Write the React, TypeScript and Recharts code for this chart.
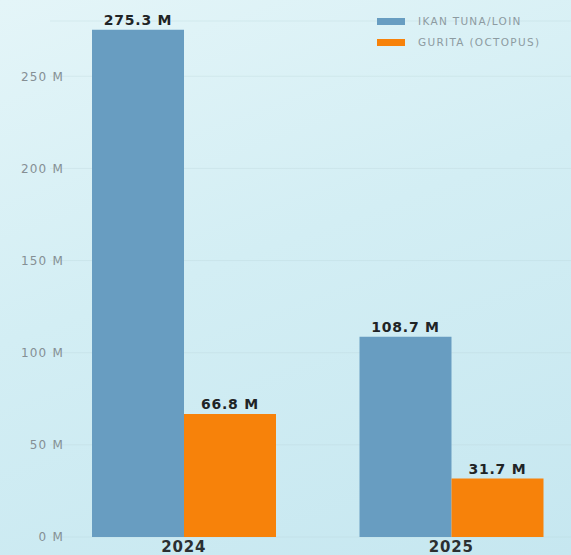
import React from 'react';
import { BarChart, Bar, XAxis, YAxis, CartesianGrid, LabelList } from 'recharts';

const years = ['2024', '2025'];
const tunaValues = [275.3, 108.7];
const guritaValues = [66.8, 31.7];
const yTicks = [0, 50, 100, 150, 200, 250];
const seriesNames = ['IKAN TUNA/LOIN', 'GURITA (OCTOPUS)'];

const BLUE = '#689dc1';
const ORANGE = '#f7820a';

const data = years.map((year, i) => ({
    year,
    tuna: tunaValues[i],
    gurita: guritaValues[i],
}));

const labelStyle = { fill: '#1f2426', fontSize: 14, fontWeight: 'bold', letterSpacing: 0.8 };

export default function App() {
    return (
        <div
            style={{
                position: 'fixed',
                left: 0,
                top: 0,
                width: 571,
                height: 555,
                overflow: 'hidden',
                background: 'linear-gradient(160deg, #e4f5f8 0%, #d3eef4 45%, #c6e7f0 100%)',
            }}
        >
            <BarChart
                width={620}
                height={555}
                data={data}
                margin={{ top: 21, right: 35, left: 0, bottom: 0 }}
                barSize={92}
                barGap={0}
                style={{ fontFamily: 'DejaVu Sans' }}
            >
                <CartesianGrid vertical={false} stroke="#b9d3da" strokeOpacity={0.35} />
                <XAxis
                    dataKey="year"
                    axisLine={false}
                    tickLine={false}
                    height={18}
                    tick={{ fill: '#2b2f31', fontSize: 15, fontWeight: 'bold', letterSpacing: 0.8 }}
                    dy={-4}
                />
                <YAxis
                    width={50}
                    domain={[0, 280]}
                    ticks={yTicks}
                    axisLine={false}
                    tickLine={false}
                    tick={{ fill: '#858f94', fontSize: 12, dx: 22, letterSpacing: 1.2 }}
                    tickFormatter={(v) => `${v} M`}
                />
                <Bar dataKey="tuna" fill={BLUE} isAnimationActive={false}>
                    <LabelList dataKey="tuna" position="top" offset={5} formatter={(v: any) => `${v} M`} style={labelStyle} />
                </Bar>
                <Bar dataKey="gurita" fill={ORANGE} isAnimationActive={false}>
                    <LabelList dataKey="gurita" position="top" offset={5} formatter={(v: any) => `${v} M`} style={labelStyle} />
                </Bar>
            </BarChart>
            <div
                style={{
                    position: 'absolute',
                    left: 377,
                    top: 11,
                    fontFamily: 'DejaVu Sans',
                    fontSize: 10.5,
                    color: '#8d9ba1',
                    lineHeight: '21px',
                    letterSpacing: 1.3,
                }}
            >
                {[BLUE, ORANGE].map((c, i) => (
                    <div key={i} style={{ display: 'flex', alignItems: 'center' }}>
                        <span style={{ display: 'inline-block', width: 28, height: 7, background: c, marginRight: 13 }} />
                        <span>{seriesNames[i]}</span>
                    </div>
                ))}
            </div>
        </div>
    );
}
